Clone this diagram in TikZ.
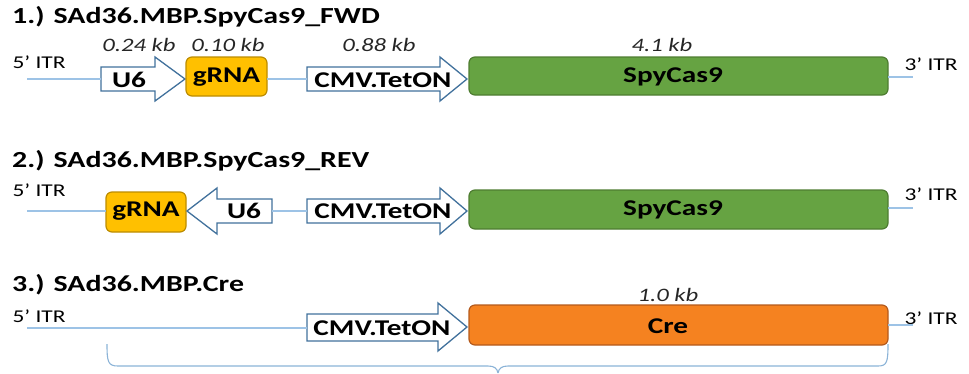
\documentclass[tikz,border=0pt]{standalone}
\usepackage{fontspec}
\setmainfont{Carlito}
\newcommand\sx[1]{\scalebox{1.3}[1]{#1}}
\definecolor{lineblue}{HTML}{9DC3E6}
\definecolor{arrblue}{HTML}{41719C}
\definecolor{gold}{HTML}{FFC000}
\definecolor{goldd}{HTML}{BC8C00}
\definecolor{grn}{HTML}{66A342}
\definecolor{grnd}{HTML}{4E7D31}
\definecolor{org}{HTML}{F58220}
\definecolor{orgd}{HTML}{B45A1C}
\tikzset{
  title/.style={anchor=west,inner sep=0pt,font=\fontsize{23}{27}\selectfont\bfseries},
  itr/.style={inner sep=0pt,font=\fontsize{18}{21}\selectfont},
  kb/.style={inner sep=0pt,font=\fontsize{19}{22}\selectfont\itshape,text=black!85},
  boxtxt/.style={inner sep=0pt,font=\fontsize{22.5}{26}\selectfont\bfseries},
  backbone/.style={draw=lineblue,line width=1.1pt},
  arrowbox/.style={draw=arrblue,fill=white,line width=1.3pt,line join=miter},
  genebox/.style={rounded corners=6pt,line width=1.2pt},
}
\begin{document}
\begin{tikzpicture}[x=1pt,y=-1pt]
\useasboundingbox (0,0) rectangle (969,373);

% ---------- Row 1 ----------
\node[title] (t1) at (12,17) {\sx{1.) SAd36.MBP.SpyCas9\_FWD}};
\node[itr] (i5a) at (39,62) {\sx{5’ ITR}};
\node[itr] (i3a) at (931,64) {\sx{3’ ITR}};
\coordinate (s1) at (27,79);
\coordinate (e1) at (913,77);
% U6 arrow
\draw[arrowbox] (101,67) -- (155,67) -- (155,57) -- (185,79) -- (155,101) -- (155,91) -- (101,91) -- cycle;
\coordinate (u6aL) at (101,79);
\node[boxtxt] (u6a) at (129,80) {\sx{U6}};
% gRNA
\draw[genebox,fill=gold,draw=goldd] (186,57) rectangle (267,96);
\node[boxtxt] (ga) at (226.5,77) {\sx{gRNA}};
\coordinate (gaR) at (267,79);
% CMV arrow
\draw[arrowbox] (307,67) -- (440,67) -- (440,57) -- (467,79) -- (440,101) -- (440,91) -- (307,91) -- cycle;
\coordinate (cmaL) at (307,79);
\node[boxtxt] (cma) at (383,80) {\sx{CMV.TetON}};
% SpyCas9
\draw[genebox,fill=grn,draw=grnd] (469,57) rectangle (888,95);
\node[boxtxt] (spa) at (673,77) {\sx{SpyCas9}};
\coordinate (spaR) at (888,77);
\node[kb] (k1) at (139,45) {\sx{0.24 kb}};
\node[kb] (k2) at (228,45) {\sx{0.10 kb}};
\node[kb] (k3) at (379,45) {\sx{0.88 kb}};
\node[kb] (k4) at (662,45) {\sx{4.1 kb}};
\draw[backbone] (s1) -- (u6aL);
\draw[backbone] (gaR) -- (cmaL);
\draw[backbone] (spaR) -- (e1);

% ---------- Row 2 ----------
\node[title] (t2) at (12,161) {\sx{2.) SAd36.MBP.SpyCas9\_REV}};
\node[itr] (i5b) at (39,190) {\sx{5’ ITR}};
\node[itr] (i3b) at (931,194) {\sx{3’ ITR}};
\coordinate (s2) at (27,211);
\coordinate (e2) at (913,208);
\draw[genebox,fill=gold,draw=goldd] (106,192) rectangle (186,232);
\node[boxtxt] (gb) at (146,211) {\sx{gRNA}};
\coordinate (gbL) at (106,211);
\draw[arrowbox] (272,199) -- (217,199) -- (217,188) -- (187,211) -- (217,234) -- (217,223) -- (272,223) -- cycle;
\node[boxtxt] (u6b) at (244,211) {\sx{U6}};
\coordinate (u6bR) at (272,211);
\draw[arrowbox] (307,199) -- (440,199) -- (440,188) -- (467,211) -- (440,234) -- (440,223) -- (307,223) -- cycle;
\coordinate (cmbL) at (307,211);
\node[boxtxt] (cmb) at (383,211) {\sx{CMV.TetON}};
\draw[genebox,fill=grn,draw=grnd] (469,190) rectangle (888,229);
\node[boxtxt] (spb) at (673,210) {\sx{SpyCas9}};
\coordinate (spbR) at (888,208);
\draw[backbone] (s2) -- (gbL);
\draw[backbone] (u6bR) -- (cmbL);
\draw[backbone] (spbR) -- (e2);

% ---------- Row 3 ----------
\node[title] (t3) at (12,285) {\sx{3.) SAd36.MBP.Cre}};
\node[itr] (i5c) at (39,316) {\sx{5’ ITR}};
\node[itr] (i3c) at (931,318) {\sx{3’ ITR}};
\coordinate (s3) at (27,328);
\coordinate (e3) at (913,325);
\draw[arrowbox] (307,314) -- (438,314) -- (438,303) -- (467,327) -- (438,351) -- (438,341) -- (307,341) -- cycle;
\coordinate (cmcL) at (307,328);
\node[boxtxt] (cmc) at (382,328) {\sx{CMV.TetON}};
\draw[genebox,fill=org,draw=orgd] (469,305) rectangle (888,345);
\node[boxtxt] (cre) at (668,326) {\sx{Cre}};
\coordinate (creR) at (888,325);
\node[kb] (k5) at (668,295) {\sx{1.0 kb}};
\draw[backbone] (s3) -- (cmcL);
\draw[backbone] (creR) -- (e3);

% brace
\coordinate (bl) at (107,344);
\coordinate (br) at (888,344);
\coordinate (bm) at (498,373);
\draw[draw=lineblue!80!arrblue,line width=1.1pt]
  (bl) .. controls (107,362) and (108,366) .. (118,366) -- (488,366)
  .. controls (494,366) and (497,368) .. (bm)
  (bm) .. controls (499,368) and (502,366) .. (508,366) -- (878,366)
  .. controls (887,366) and (888,362) .. (br);
\end{tikzpicture}
\end{document}
